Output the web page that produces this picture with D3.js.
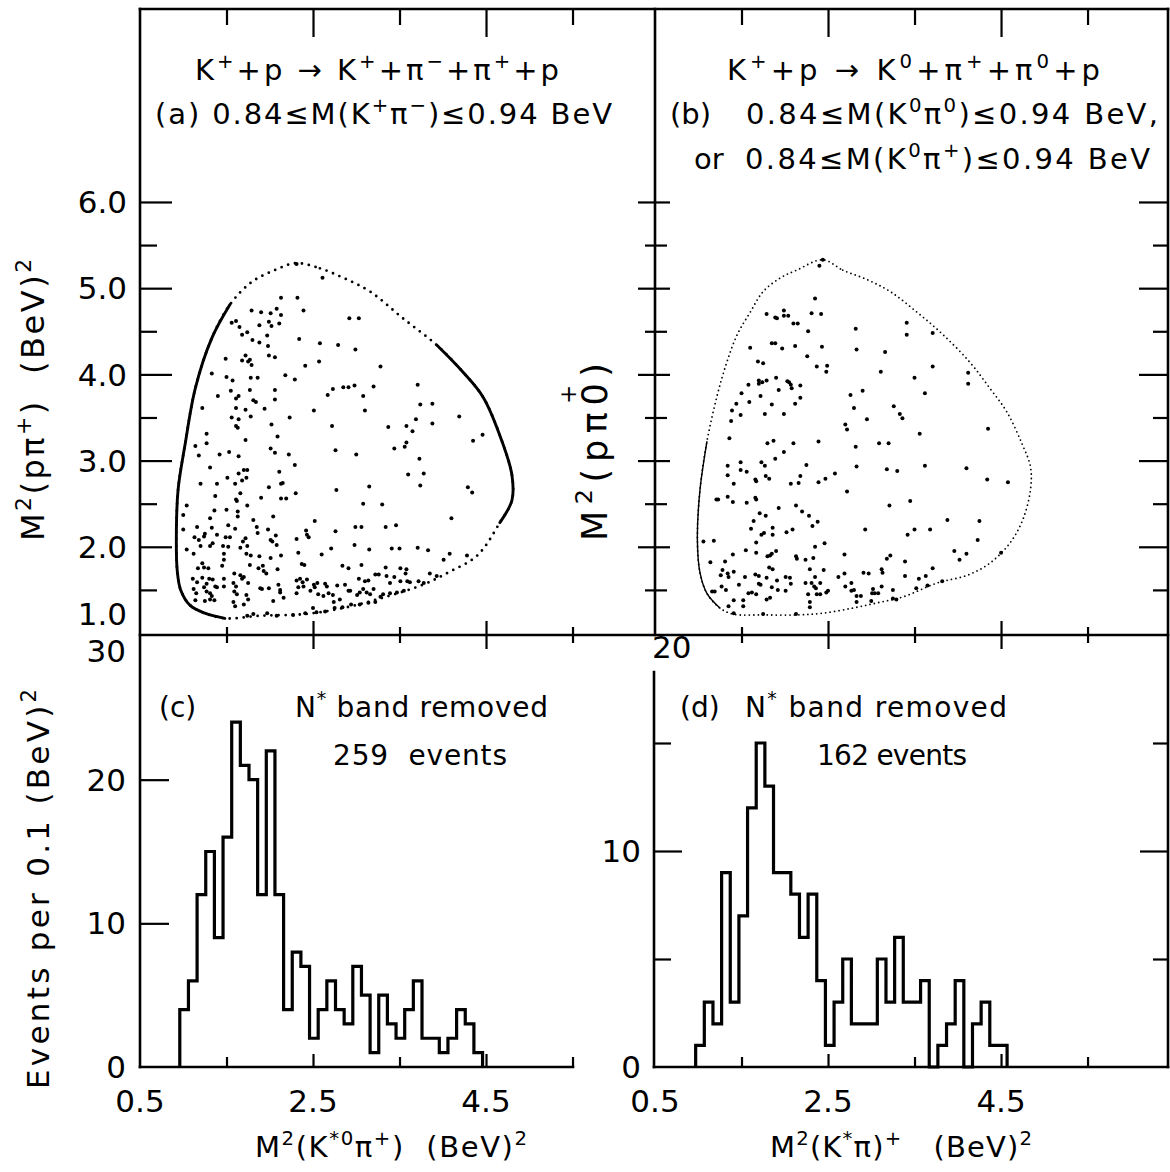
<!DOCTYPE html>
<html><head><meta charset="utf-8">
<script src="https://cdn.jsdelivr.net/npm/d3@7/dist/d3.min.js"></script>
<style>
html,body{margin:0;padding:0;background:#fff;}
svg text{font-family:"DejaVu Sans","Liberation Sans",sans-serif;fill:#000;white-space:pre;}
</style></head><body>
<svg id="fig" width="1170" height="1172" viewBox="0 0 1170 1172"></svg>
<script>
// ---------------- DATA ----------------
// Histogram (c): counts per 0.1 (BeV)^2, N* band removed, 259 events
const histCStart = 0.96;
const histCCounts = [4,6,12,15,9,16,24,21,20,12,22,12,4,8,7,2,4,6,4,3,7,5,1,5,3,2,4,6,2,2,1,2,4,3,1];
// Histogram (d): 162 events
const histDStart = 0.97;
const histDCounts = [1,3,2,9,3,7,12,15,13,9,9,8,6,8,4,1,3,5,2,2,2,5,3,6,3,3,4,0,1,2,4,0,2,3,1,1];
const binWidth = 0.1;

// Dalitz boundary (a): [M^2(K*pi), M^2(p pi)]
const boundaryA = [[2.30,5.29],[2.58,5.23],[2.85,5.12],[3.16,4.96],[3.54,4.65],[3.93,4.34],[4.23,4.03],[4.47,3.73],[4.70,3.18],[4.80,2.83],[4.80,2.54],[4.66,2.28],[4.40,1.90],[4.08,1.71],[3.77,1.56],[3.31,1.41],[2.85,1.29],[2.41,1.22],[1.89,1.20],[1.48,1.17],[1.25,1.23],[1.08,1.32],[0.97,1.50],[0.93,1.73],[0.92,2.08],[0.94,2.66],[1.02,3.18],[1.14,3.84],[1.33,4.42],[1.54,4.81],[1.79,5.07],[2.06,5.21]];
// Dalitz boundary (b)
const boundaryB = [[2.44,5.33],[2.67,5.21],[2.95,5.10],[3.22,4.96],[3.53,4.72],[3.83,4.46],[4.14,4.14],[4.37,3.84],[4.57,3.56],[4.74,3.20],[4.84,2.93],[4.84,2.66],[4.75,2.31],[4.60,2.04],[4.37,1.81],[4.11,1.67],[3.76,1.58],[3.37,1.42],[3.07,1.35],[2.79,1.29],[2.44,1.23],[2.14,1.21],[1.75,1.21],[1.40,1.22],[1.25,1.29],[1.10,1.46],[1.02,1.70],[0.99,2.08],[1.02,2.66],[1.10,3.22],[1.22,3.76],[1.33,4.14],[1.45,4.46],[1.60,4.72],[1.75,4.96],[1.95,5.12],[2.14,5.21]];

// Scatter events (a)
const pointsA = [[2.31,5.28],[2.61,5.12],[2.13,4.89],[2.32,4.89],[2.39,4.74],[1.79,4.74],[1.90,4.72],[2.01,4.71],[2.08,4.76],[2.13,4.69],[1.56,4.60],[1.61,4.62],[1.65,4.55],[1.74,4.49],[1.68,4.46],[1.88,4.57],[1.99,4.61],[2.02,4.56],[2.11,4.59],[1.97,4.45],[1.80,4.40],[1.88,4.37],[1.98,4.33],[2.34,4.41],[2.58,4.36],[2.79,4.34],[2.99,4.29],[2.92,4.65],[3.03,4.65],[1.49,4.18],[1.72,4.22],[1.68,4.16],[1.77,4.17],[1.79,4.11],[1.75,4.15],[1.99,4.22],[2.06,4.20],[2.41,4.10],[2.57,4.15],[3.28,4.09],[1.33,4.01],[1.50,3.97],[1.57,3.93],[1.78,3.96],[1.86,3.96],[2.18,3.99],[2.29,3.94],[1.40,3.75],[1.55,3.81],[1.61,3.72],[1.64,3.75],[1.77,3.82],[1.81,3.70],[1.84,3.68],[2.06,3.82],[2.06,3.71],[1.94,3.60],[1.22,3.61],[1.61,3.61],[1.72,3.59],[1.78,3.51],[1.56,3.50],[1.64,3.48],[1.61,3.40],[1.63,3.38],[2.02,3.42],[2.23,3.50],[2.09,3.28],[1.72,3.24],[1.27,3.31],[1.27,3.20],[2.51,3.58],[2.67,3.76],[2.73,3.83],[2.85,3.85],[2.91,3.85],[2.98,3.87],[3.08,3.75],[3.20,3.86],[3.10,3.58],[2.72,3.40],[3.71,3.88],[3.74,3.65],[3.88,3.66],[3.69,3.48],[3.58,3.40],[3.65,3.34],[3.88,3.43],[3.37,3.39],[4.19,3.51],[4.46,3.30],[4.35,3.23],[3.58,3.21],
[1.14,3.17],[2.01,3.14],[2.06,3.09],[2.22,3.07],[2.76,3.12],[3.00,3.07],[3.44,3.14],[3.56,3.16],[1.18,3.06],[1.42,3.07],[1.53,3.10],[1.64,3.05],[2.29,2.95],[3.73,3.02],[1.31,2.92],[1.70,2.89],[1.74,2.89],[1.64,2.85],[2.11,2.87],[1.51,2.80],[1.68,2.77],[1.73,2.80],[3.60,2.84],[3.78,2.85],[1.20,2.73],[1.39,2.73],[1.60,2.73],[1.99,2.69],[2.13,2.73],[2.15,2.74],[2.77,2.66],[3.15,2.70],[3.74,2.71],[4.29,2.69],[4.34,2.63],[1.37,2.59],[1.66,2.62],[1.61,2.55],[1.62,2.53],[1.90,2.57],[2.13,2.56],[2.19,2.56],[2.30,2.62],[1.04,2.48],[1.36,2.42],[1.50,2.43],[1.74,2.48],[1.63,2.41],[1.63,2.35],[3.08,2.50],[3.30,2.49],[1.00,2.37],[1.31,2.33],[1.81,2.31],[2.04,2.35],[2.52,2.30],[4.10,2.33],[1.00,2.20],[1.16,2.23],[1.33,2.22],[1.25,2.15],[1.24,2.12],[1.39,2.14],[1.52,2.25],[1.60,2.21],[1.85,2.23],[1.86,2.16],[1.98,2.20],[2.99,2.23],[3.06,2.23],[3.34,2.23],[3.46,2.25],[2.76,2.18],[2.42,2.19],[2.43,2.14],[2.45,2.11],[1.13,2.11],[1.18,2.08],[1.49,2.11],[1.54,2.11],[1.72,2.10],[2.01,2.08],[2.07,2.13],[2.03,2.06],[2.08,2.02],[2.31,2.09],[1.04,1.97],[1.12,1.92],[1.20,2.01],[1.31,2.01],[1.34,2.04],[1.46,2.01],[1.52,2.00],[1.47,1.92],[1.66,1.99],[1.69,2.06],[1.74,2.01],[1.73,1.92],[1.78,1.90],[1.88,1.89],[2.01,1.87],[2.13,1.90],[2.33,1.93],[2.60,1.91],[2.71,1.98],[2.98,2.02],[3.15,1.97],[3.41,1.98],[3.50,1.98],[3.71,1.99],[3.83,1.96],[4.01,1.85],[4.08,1.92],[4.28,1.90],[1.22,1.81],[1.24,1.76],[1.17,1.75],[1.29,1.75],[1.45,1.78],[1.47,1.85],[1.77,1.79],[1.87,1.75],[1.93,1.72],[1.96,1.69],[1.92,1.78],[2.09,1.74],[2.37,1.80],[2.40,1.79],[2.84,1.78],[2.91,1.75],[3.06,1.79],[3.34,1.76],[3.51,1.75],[3.58,1.74],[3.57,1.69],[1.11,1.63],[1.16,1.59],[1.22,1.64],[1.27,1.57],[1.30,1.63],[1.34,1.62],[1.37,1.54],[1.47,1.63],[1.59,1.69],[1.66,1.67],[1.68,1.63],[1.70,1.65],[1.58,1.58],[1.61,1.54],[1.75,1.58],[1.89,1.52],[1.99,1.52],[2.10,1.56],[2.12,1.50],[2.31,1.61],[2.35,1.63],[2.38,1.59],[2.43,1.62],[2.51,1.56],[2.55,1.58],[2.64,1.57],[2.66,1.54],[2.78,1.55],[2.87,1.56],[2.91,1.49],[3.03,1.63],[3.10,1.60],[3.14,1.61],[3.22,1.68],[3.26,1.68],[3.35,1.66],[3.39,1.58],[3.44,1.65],[3.51,1.60],[3.59,1.60],[3.62,1.59],[3.72,1.60],[3.78,1.58],[3.85,1.69],[3.93,1.66],[1.12,1.51],[1.15,1.46],[1.24,1.53],[1.27,1.48],[1.31,1.46],[1.33,1.43],[1.39,1.53],[1.47,1.54],[1.59,1.48],[1.62,1.45],[1.73,1.44],[1.91,1.51],[2.12,1.47],[2.16,1.41],[2.31,1.46],[2.33,1.53],[2.39,1.54],[2.47,1.49],[2.52,1.53],[2.56,1.45],[2.62,1.43],[2.68,1.46],[2.73,1.44],[2.74,1.36],[2.81,1.39],[2.93,1.49],[3.01,1.44],[3.04,1.47],[3.08,1.51],[3.12,1.47],[3.16,1.45],[3.20,1.51],[3.28,1.42],[3.31,1.45],[3.39,1.46],[3.47,1.47],[3.55,1.49],[1.14,1.38],[1.25,1.37],[1.31,1.39],[1.36,1.38],[1.58,1.36],[1.60,1.31],[1.75,1.39],[1.70,1.33],[2.04,1.37],[2.50,1.29],[2.54,1.24],[2.64,1.25],[2.75,1.29],[2.84,1.30],[2.94,1.33],[3.04,1.33],[3.14,1.35],[3.22,1.36],[1.74,1.20],[1.81,1.22],[1.97,1.23],[2.08,1.20],[2.27,1.21],[2.41,1.23]];

// Scatter events (b)
const pointsB = [[2.44,5.33],[2.40,5.26],[2.35,4.88],[1.79,4.70],[1.99,4.74],[1.99,4.68],[2.04,4.68],[1.89,4.66],[1.91,4.65],[2.31,4.71],[2.42,4.70],[2.10,4.59],[2.15,4.59],[2.27,4.50],[2.82,4.53],[3.41,4.60],[3.41,4.46],[3.71,4.48],[1.60,4.31],[1.85,4.36],[1.89,4.36],[1.97,4.30],[2.12,4.33],[2.43,4.32],[2.83,4.29],[3.16,4.26],[2.26,4.21],[1.69,4.15],[1.75,4.13],[2.37,4.09],[2.49,4.10],[2.48,4.03],[3.11,4.03],[3.71,4.09],[4.12,4.02],[4.12,3.89],[1.58,3.88],[1.70,3.93],[1.74,3.91],[1.70,3.89],[1.79,3.93],[1.90,3.96],[2.03,3.92],[2.05,3.91],[2.07,3.88],[2.08,3.84],[2.18,3.87],[1.93,3.82],[3.50,3.96],[1.50,3.78],[1.72,3.75],[1.44,3.66],[1.59,3.68],[1.85,3.65],[2.12,3.66],[2.18,3.73],[2.76,3.76],[2.90,3.81],[3.62,3.78],[1.39,3.58],[1.49,3.53],[1.38,3.46],[1.77,3.54],[1.99,3.54],[2.80,3.61],[3.26,3.63],[3.33,3.54],[3.36,3.49],[2.95,3.48],[2.70,3.42],[2.72,3.36],[3.56,3.31],[4.35,3.37],[1.36,3.26],
[1.80,3.20],[1.87,3.23],[2.10,3.20],[2.39,3.22],[2.82,3.16],[3.09,3.20],[3.20,3.20],[1.99,3.10],[1.89,3.02],[1.34,2.94],[1.49,2.98],[1.49,2.89],[1.56,2.87],[1.73,2.98],[1.77,2.94],[2.25,2.95],[2.83,2.93],[3.18,2.90],[3.30,2.88],[3.62,2.94],[4.10,2.91],[1.34,2.83],[1.66,2.78],[1.67,2.76],[1.78,2.82],[1.82,2.79],[1.41,2.73],[2.07,2.73],[2.16,2.74],[2.18,2.82],[2.39,2.75],[2.47,2.79],[2.58,2.85],[2.72,2.64],[4.34,2.78],[4.58,2.75],[1.21,2.55],[1.23,2.55],[1.34,2.58],[1.40,2.52],[1.56,2.51],[1.66,2.57],[1.67,2.55],[1.93,2.45],[2.13,2.48],[2.20,2.41],[2.28,2.36],[3.21,2.48],[3.45,2.53],[1.71,2.39],[1.78,2.36],[1.64,2.30],[1.61,2.21],[1.73,2.14],[1.76,2.16],[1.86,2.22],[1.86,2.14],[2.02,2.17],[2.09,2.20],[2.32,2.24],[2.38,2.29],[2.93,2.20],[3.42,2.14],[3.50,2.20],[3.68,2.20],[3.88,2.31],[4.25,2.30],[4.23,2.08],[1.06,2.06],[1.18,2.07],[1.67,2.05],[2.35,2.00],[2.46,2.04],[1.40,1.91],[1.55,1.96],[1.67,1.93],[1.80,1.89],[1.83,1.90],[1.85,1.92],[1.90,1.95],[2.13,1.89],[2.14,1.86],[2.24,1.85],[2.33,1.87],[2.69,1.91],[3.18,1.86],[3.22,1.90],[3.39,1.83],[3.96,1.95],[4.02,1.85],[4.10,1.92],[4.50,1.93],[1.14,1.82],[1.31,1.83],[1.28,1.73],[1.34,1.69],[1.35,1.65],[1.41,1.71],[1.26,1.67],[1.54,1.65],[1.66,1.68],[1.70,1.66],[1.79,1.64],[1.82,1.76],[1.86,1.74],[1.91,1.61],[2.01,1.65],[2.06,1.64],[2.29,1.74],[2.35,1.65],[2.45,1.73],[2.62,1.65],[2.69,1.69],[2.91,1.70],[2.97,1.69],[3.12,1.74],[3.13,1.70],[3.39,1.66],[3.55,1.63],[3.63,1.66],[3.71,1.75],[1.27,1.54],[1.32,1.50],[1.16,1.48],[1.19,1.48],[1.47,1.56],[1.70,1.57],[1.72,1.56],[1.85,1.53],[1.92,1.50],[2.01,1.49],[2.07,1.57],[2.24,1.58],[2.31,1.58],[2.34,1.54],[2.36,1.52],[2.41,1.58],[2.70,1.54],[2.77,1.58],[2.77,1.49],[2.80,1.50],[3.02,1.51],[3.12,1.54],[3.25,1.50],[3.52,1.52],[3.65,1.55],[3.82,1.60],[1.58,1.46],[1.62,1.47],[1.67,1.45],[1.79,1.39],[1.83,1.41],[2.27,1.45],[2.37,1.45],[2.41,1.45],[2.48,1.47],[2.50,1.49],[2.83,1.43],[2.83,1.36],[2.88,1.43],[3.01,1.46],[3.04,1.46],[3.08,1.46],[3.25,1.40],[3.29,1.39],[1.41,1.38],[1.52,1.38],[1.35,1.31],[1.52,1.31],[2.29,1.36],[2.29,1.30],[3.00,1.37],[1.41,1.23],[1.75,1.22],[2.13,1.22]];

// Ticks / labels
const xMajorTicks = [2.5, 4.5];
const xMinorTicks = [1.5, 3.5, 5.5];
const yTopMajor = [2, 3, 4, 5, 6];
const yTopMinor = [1.5, 2.5, 3.5, 4.5, 5.5];
const yTopLabels = [1.0, 2.0, 3.0, 4.0, 5.0, 6.0];
const histXLabels = [0.5, 2.5, 4.5];
const cYTicks = [10, 20];
const cYLabels = [0, 10, 20, 30];
const dYMajor = [10];
const dYMinor = [5, 15];
const dYLabels = [0, 10, 20];

// ---------------- LAYOUT ----------------
const svg = d3.select("#fig");
svg.append("rect").attr("width",1170).attr("height",1172).attr("fill","#fff");
const L = 140, MIDX = 655, R = 1168, T = 9, MIDY = 635, B = 1067, CR = 573, DL = 654, DT = 672;
const INK = "#000";

const xA = d3.scaleLinear().domain([0.5, 6.45]).range([140, 654.7]);
const xB = d3.scaleLinear().domain([0.5, 6.43]).range([655, 1168]);
const yTop = d3.scaleLinear().domain([1, 8.25]).range([633, 8]);
const yC = d3.scaleLinear().domain([0, 30]).range([1067, 636]);
const yD = d3.scaleLinear().domain([0, 20]).range([1067, 635]);

// frame
const frame = [
  [[L,T],[R,T]], [[L,T],[L,B]], [[MIDX,T],[MIDX,MIDY]], [[R,T],[R,B]],
  [[L,MIDY],[R,MIDY]], [[L,B],[CR,B]], [[DL,B],[R,B]], [[DL,DT],[DL,B]]
];
svg.append("g").selectAll("path").data(frame).join("path")
  .attr("d", d => d3.line()(d)).attr("stroke", INK).attr("stroke-width", 2.6)
  .attr("fill","none").attr("stroke-linecap","square");

function ticks(axisFn, scale, values, size, tx, ty, sw) {
  const g = svg.append("g").attr("transform", `translate(${tx},${ty})`)
    .call(axisFn(scale).tickValues(values).tickSize(size).tickFormat(""));
  g.select(".domain").remove();
  g.selectAll("line").attr("stroke", INK).attr("stroke-width", sw || 2.2);
  g.selectAll("text").remove();
}
[xA, xB].forEach(s => {
  ticks(d3.axisBottom, s, xMajorTicks, 28, 0, T);
  ticks(d3.axisBottom, s, xMinorTicks, 16, 0, T);
  ticks(d3.axisTop, s, xMajorTicks, 14, 0, MIDY);
  ticks(d3.axisTop, s, xMinorTicks, 8, 0, MIDY);
  ticks(d3.axisBottom, s, xMajorTicks, 14, 0, MIDY);
  ticks(d3.axisBottom, s, xMinorTicks, 8, 0, MIDY);
  ticks(d3.axisTop, s, xMajorTicks, 13, 0, B);
  ticks(d3.axisTop, s, xMinorTicks, 10, 0, B);
});
ticks(d3.axisRight, yTop, yTopMajor, 32, L, 0);
ticks(d3.axisRight, yTop, yTopMinor, 17, L, 0);
ticks(d3.axisLeft, yTop, yTopMajor, 17, MIDX, 0);
ticks(d3.axisLeft, yTop, yTopMinor, 10, MIDX, 0);
ticks(d3.axisRight, yTop, yTopMajor, 15, MIDX, 0);
ticks(d3.axisRight, yTop, yTopMinor, 12, MIDX, 0);
ticks(d3.axisLeft, yTop, yTopMajor, 29, R, 0);
ticks(d3.axisLeft, yTop, yTopMinor, 15, R, 0);
ticks(d3.axisRight, yC, cYTicks, 29, L, 0);
ticks(d3.axisRight, yD, dYMajor, 28, DL, 0);
ticks(d3.axisRight, yD, dYMinor, 17, DL, 0);
ticks(d3.axisLeft, yD, dYMajor, 28, R, 0);
ticks(d3.axisLeft, yD, dYMinor, 15, R, 0);

// ---------------- MARKS ----------------
function boundary(pts, xs, solidRanges, dotW, dotGap, solidW) {
  const g = svg.append("g");
  g.append("path").attr("d", d3.line().x(d => xs(d[0])).y(d => yTop(d[1])).curve(d3.curveCatmullRomClosed)(pts))
    .attr("fill","none").attr("stroke",INK).attr("stroke-width",dotW)
    .attr("stroke-linecap","round").attr("stroke-dasharray",`0 ${dotGap}`);
  solidRanges.forEach(([a,b]) => {
    g.append("path").attr("d", d3.line().x(d => xs(d[0])).y(d => yTop(d[1])).curve(d3.curveCatmullRom)(pts.slice(a, b+1)))
      .attr("fill","none").attr("stroke",INK).attr("stroke-width",solidW).attr("stroke-linecap","round");
  });
}
boundary(boundaryA, xA, [[5,11],[19,29]], 2.8, 7, 2.9);
boundary(boundaryB, xB, [[24,29]], 1.8, 4.5, 1.4);

svg.append("g").selectAll("circle").data(pointsA).join("circle")
  .attr("cx", d => xA(d[0])).attr("cy", d => yTop(d[1])).attr("r", 2.0).attr("fill", INK);
svg.append("g").selectAll("circle").data(pointsB).join("circle")
  .attr("cx", d => xB(d[0])).attr("cy", d => yTop(d[1])).attr("r", 2.0).attr("fill", INK);

function hist(counts, start, xs, ys) {
  const pts = [[start, 0]];
  counts.forEach((c, i) => { const x0 = start + i * binWidth; pts.push([x0, c], [x0 + binWidth, c]); });
  pts.push([start + counts.length * binWidth, 0]);
  svg.append("path").attr("d", d3.line().x(d => xs(d[0])).y(d => ys(d[1]))(pts))
    .attr("fill","none").attr("stroke",INK).attr("stroke-width",3.2).attr("stroke-linejoin","miter");
}
hist(histCCounts, histCStart, xA, yC);
hist(histDCounts, histDStart, xB, yD);

// ---------------- TEXT ----------------
function rich(parent, x, y, parts, size, opts = {}) {
  const t = parent.append("text").attr("x", x).attr("y", y)
    .attr("font-size", size).attr("text-anchor", opts.anchor || "start");
  let cur = 0;
  parts.forEach(p => {
    const s = Array.isArray(p) ? p[0] : p;
    const sup = Array.isArray(p) && p[1] === "sup";
    const target = sup ? -0.42 * size : 0;
    const ts = t.append("tspan").text(s).attr("dy", target - cur);
    if (sup) ts.attr("font-size", size * 0.68);
    cur = target;
  });
  if (opts.len) t.attr("textLength", opts.len).attr("lengthAdjust", "spacing");
  return t;
}
const S = ["+","sup"], M = ["−","sup"], Z = ["0","sup"], TWO = ["2","sup"];
// panel titles
rich(svg, 195, 80, ["K",S,"+p → K",S,"+π",M,"+π",S,"+p"], 29, {len: 364});
rich(svg, 155, 124, ["(a) 0.84≤M(K",S,"π",M,")≤0.94 BeV"], 29, {len: 457});
rich(svg, 727, 80, ["K",S,"+p → K",Z,"+π",S,"+π",Z,"+p"], 29, {len: 373});
rich(svg, 670, 124, ["(b)"], 29);
rich(svg, 746, 124, ["0.84≤M(K",Z,"π",Z,")≤0.94 BeV,"], 29, {len: 412});
rich(svg, 694, 169, ["or"], 29);
rich(svg, 745, 169, ["0.84≤M(K",Z,"π",S,")≤0.94 BeV"], 29, {len: 405});

// y-axis titles
const gA = svg.append("g").attr("transform","translate(44,400) rotate(-90)");
rich(gA, 0, 0, ["M",TWO,"(pπ",S,")  (BeV)",TWO], 32, {anchor:"middle", len: 282});
const gB = svg.append("g").attr("transform","translate(607,452) rotate(-90)");
const tB = rich(gB, 0, 0, ["M",TWO,"(pπ0)"], 35, {anchor:"middle", len: 178});
{
  const n = tB.node();
  const s0 = n.getStartPositionOfChar(5), e0 = n.getEndPositionOfChar(5);
  gB.append("text").attr("x", (s0.x + e0.x) / 2).attr("y", -31).attr("text-anchor","middle")
    .attr("font-size", 23).text("+");
}
const gC = svg.append("g").attr("transform","translate(49,889) rotate(-90)");
rich(gC, 0, 0, ["Events per 0.1 (BeV)",TWO], 31, {anchor:"middle", len: 400});

// tick labels
const fmt1 = d3.format(".1f");
svg.append("g").selectAll("text").data(yTopLabels).join("text")
  .attr("x", 127).attr("y", d => yTop(d) + (d === 1 ? -19 : 0)).attr("dy","0.36em")
  .attr("text-anchor","end").attr("font-size",31).text(fmt1);
[xA, xB].forEach(s => {
  svg.append("g").selectAll("text").data(histXLabels).join("text")
    .attr("x", d => s(d)).attr("y", 1112).attr("text-anchor","middle").attr("font-size",31).text(fmt1);
});
svg.append("g").selectAll("text").data(cYLabels).join("text")
  .attr("x", 126).attr("y", d => yC(d) + (d === 30 ? 15 : 0)).attr("dy","0.36em")
  .attr("text-anchor","end").attr("font-size",31).text(d => d);
svg.append("g").selectAll("text").data(dYLabels).join("text")
  .attr("x", d => d === 20 ? 652 : 641).attr("y", d => yD(d) + (d === 20 ? 12 : 0)).attr("dy","0.36em")
  .attr("text-anchor", d => d === 20 ? "start" : "end").attr("font-size",31).text(d => d);

// x-axis titles
rich(svg, 255, 1157, ["M",TWO,"(K",["*0","sup"],"π",S,")  (BeV)",TWO], 29, {len: 272});
rich(svg, 770, 1157, ["M",TWO,"(K",["*","sup"],"π)",S,"   (BeV)",TWO], 29, {len: 262});

// histogram annotations
rich(svg, 159, 717, ["(c)"], 28);
rich(svg, 295, 717, ["N",["*","sup"]," band removed"], 28, {len: 253});
rich(svg, 333, 765, ["259  events"], 28, {len: 174});
rich(svg, 680, 717, ["(d)"], 28);
rich(svg, 745, 717, ["N",["*","sup"]," band removed"], 28, {len: 262});
rich(svg, 817, 765, ["162 events"], 28, {len: 150});
</script></body></html>
